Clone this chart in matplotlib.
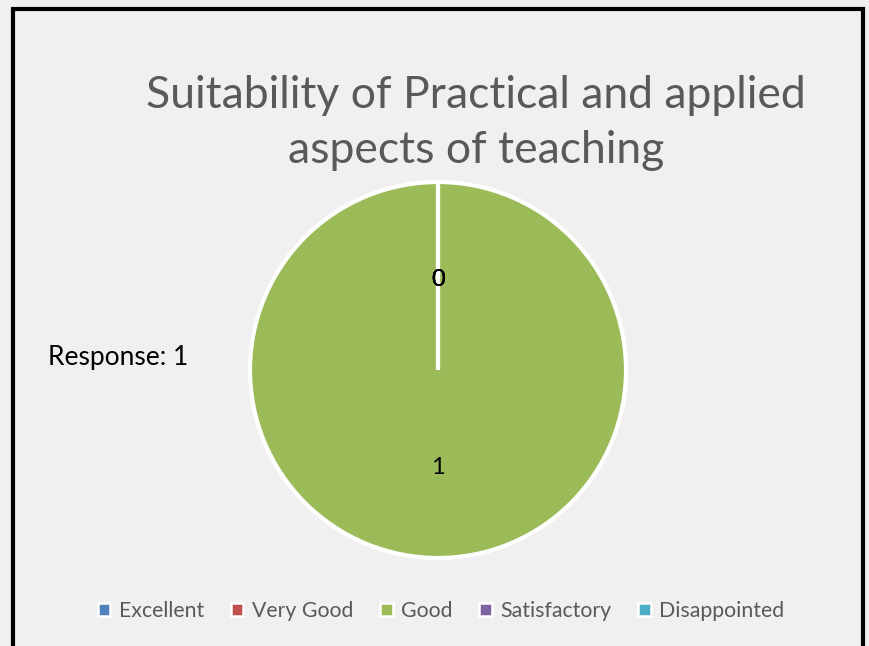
import numpy as np
import matplotlib.pyplot as plt
from matplotlib.patches import Patch, Rectangle

categories = ["Excellent", "Very Good", "Good", "Satisfactory", "Disappointed"]
responses = [0, 0, 1, 0, 0]
colors = ["#4f81bd", "#c0504d", "#9bbb59", "#8064a2", "#4bacc6"]
series_name = "Response"
title = "Suitability of Practical and applied\naspects of teaching"

plt.rcParams['font.family'] = ['Lato', 'DejaVu Sans']

fig = plt.figure(figsize=(8.69, 6.46), dpi=100)
fig.patch.set_facecolor("#f0f0f0")

# chart frame (Excel style border)
fig.patches.append(Rectangle((12.5/869, -0.05), (863-12.5)/869, 1.05 - 9/646,
                             transform=fig.transFigure, fill=False,
                             edgecolor="black", linewidth=3))

# pie area
cx, cy, r = 438, 370, 188
ax = fig.add_axes([(cx - r)/869, (646 - cy - r)/646, 2*r/869, 2*r/646])
ax.set_facecolor("none")
wedges, _ = ax.pie(responses, colors=colors, startangle=90, counterclock=False,
                   radius=1, wedgeprops=dict(edgecolor="white", linewidth=3, clip_on=False))
ax.set_xlim(-1, 1)
ax.set_ylim(-1, 1)
ax.set_aspect("equal")
ax.axis("off")

# data labels at half radius
for w, v in zip(wedges, responses):
    ang = np.deg2rad((w.theta1 + w.theta2) / 2)
    ax.text(0.5*np.cos(ang), 0.5*np.sin(ang) - 0.02, f"{v}", ha="center", va="center",
            fontsize=17, color="black")

fig.text(48/869, 1 - 358/646, f"{series_name}: {sum(responses)}", ha="left", va="center",
         fontsize=19, color="black")

fig.text(476/869, 1 - 123/646, title, ha="center", va="center", fontsize=32,
         color="#595959", linespacing=1.4)

handles = [Patch(facecolor=c, edgecolor="white", linewidth=1.8) for c in colors]
fig.legend(handles, categories, loc="center", bbox_to_anchor=(441/869, 1 - 611/646),
           ncol=5, frameon=False, fontsize=15.3, labelcolor="#595959",
           handlelength=0.6, handleheight=0.6, handletextpad=0.4, columnspacing=1.25)

fig.savefig("out.png", dpi=100, facecolor=fig.get_facecolor())
